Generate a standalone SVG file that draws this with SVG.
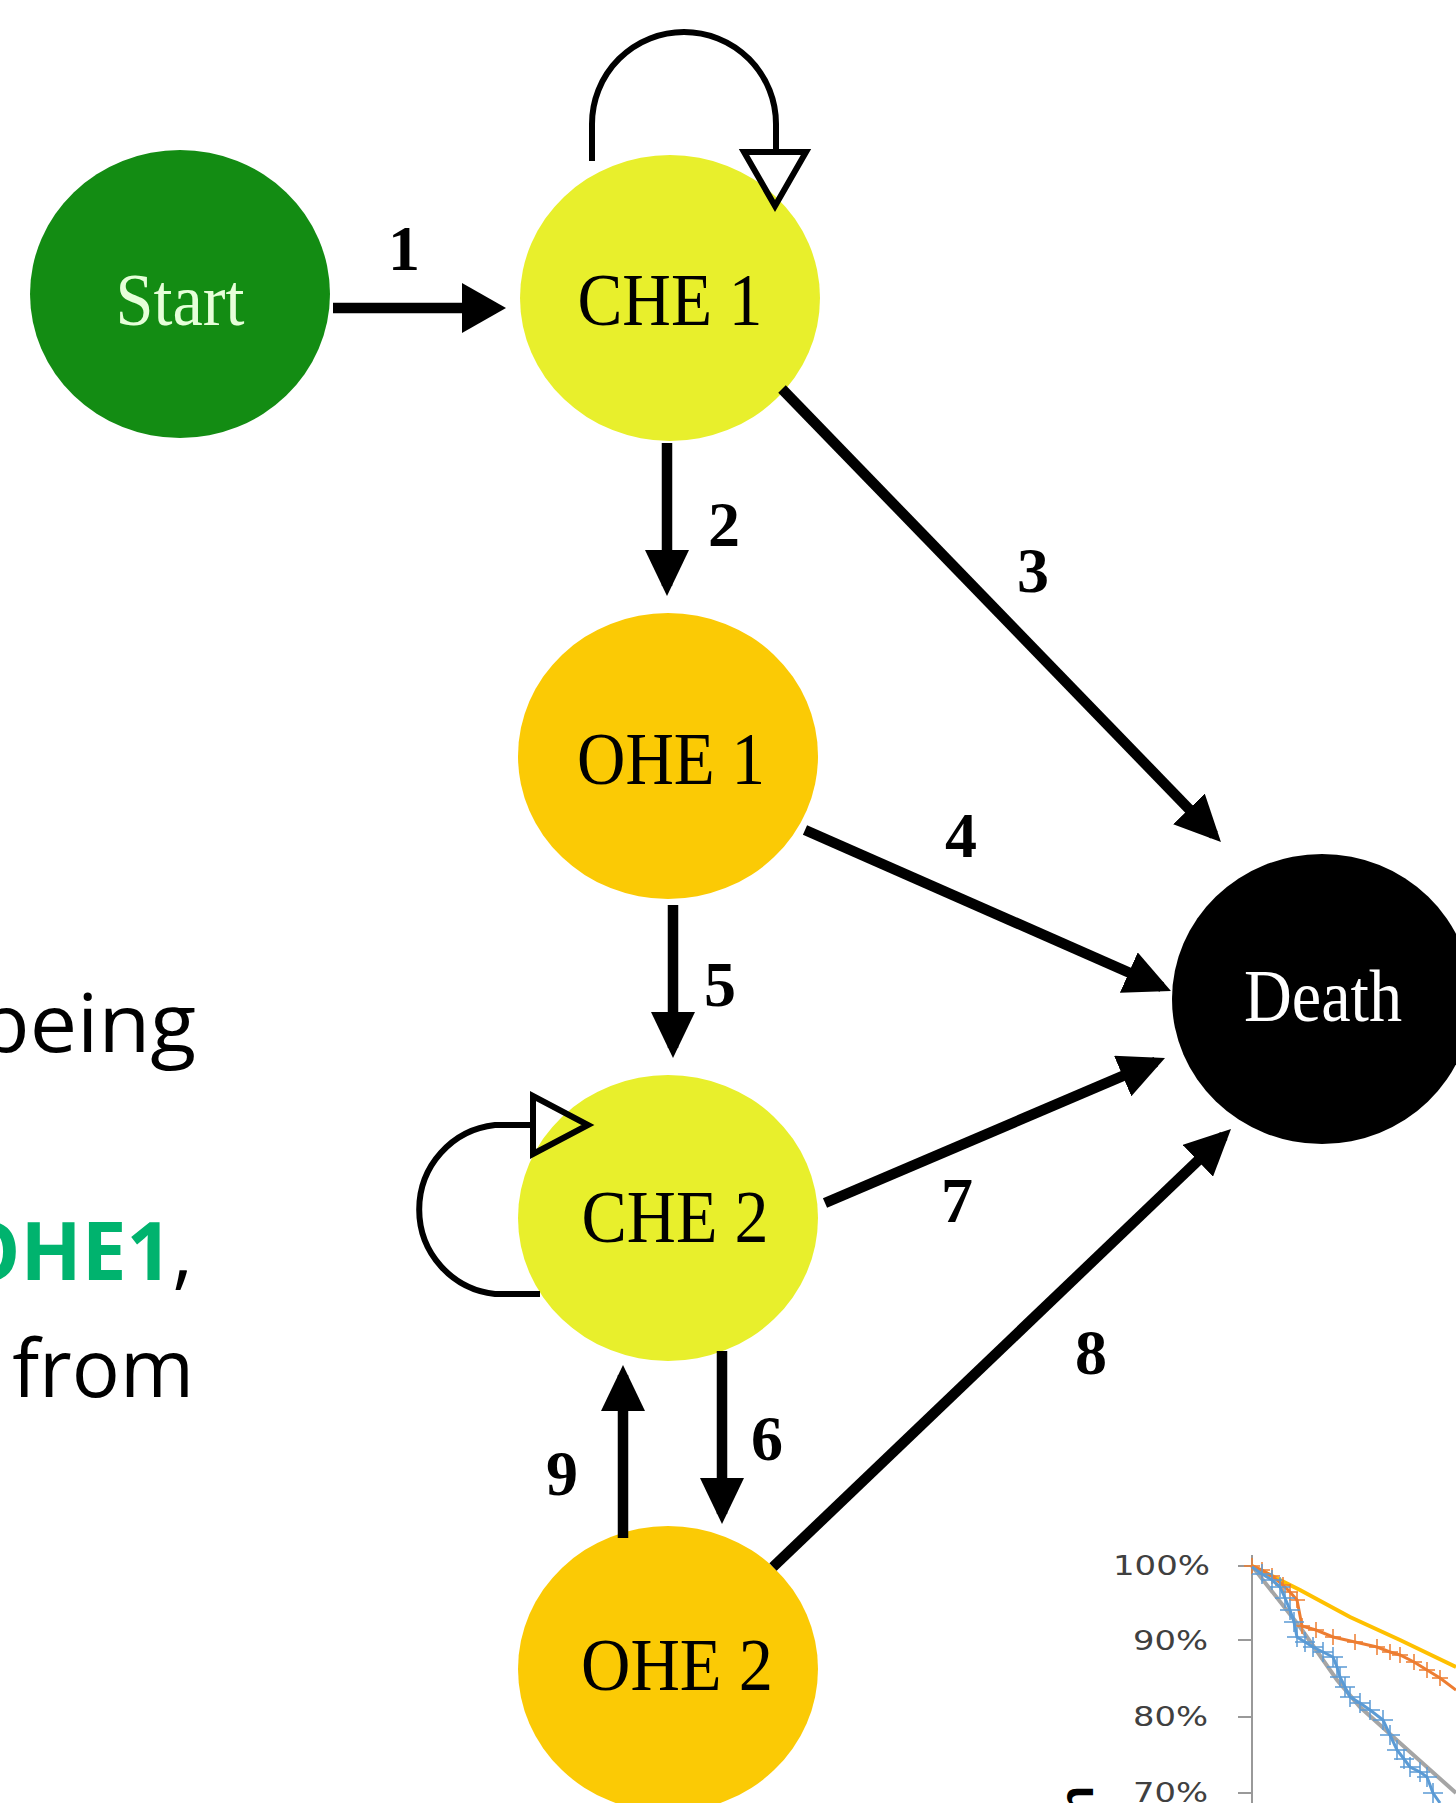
<svg xmlns="http://www.w3.org/2000/svg" width="1456" height="1803" viewBox="0 0 1456 1803">
<style>
.node-label{font-family:"Liberation Serif","Times New Roman",serif;font-size:74px;text-anchor:middle}
.num{font-family:"Liberation Serif","Times New Roman",serif;font-size:64px;font-weight:bold;text-anchor:middle;fill:#000}
.edge{stroke:#000;stroke-width:10.5;fill:none}
.loop{stroke:#000;stroke-width:6;fill:none}
.side{font-family:"Open Sans","Noto Sans",sans-serif;font-size:80px;text-anchor:end;fill:#000}
.axis{font-family:"DejaVu Sans",Verdana,sans-serif;font-size:27px;text-anchor:end;fill:#404040}
</style>
<defs>
<marker id="ah" markerUnits="userSpaceOnUse" markerWidth="46" markerHeight="44" refX="36" refY="22" orient="auto"><path d="M0,0 L46,22 L0,44 z" fill="#000"/></marker>
<marker id="ah1" markerUnits="userSpaceOnUse" markerWidth="44" markerHeight="50" refX="34" refY="25" orient="auto"><path d="M0,0 L44,25 L0,50 z" fill="#000"/></marker>
<marker id="crossO" markerUnits="userSpaceOnUse" markerWidth="16" markerHeight="16" refX="8" refY="8"><path d="M0,8 H16 M8,0 V16" stroke="#ed7d31" stroke-width="1.5"/></marker>
<marker id="crossB" markerUnits="userSpaceOnUse" markerWidth="20" markerHeight="20" refX="10" refY="10"><path d="M0,10 H20 M10,0 V20" stroke="#5b9bd5" stroke-width="1.5"/></marker>
</defs>
<rect width="1456" height="1803" fill="#fff"/>

<!-- side text fragments -->
<g id="side-text">
<text class="side" x="196" y="1052" font-size="84" textLength="218" lengthAdjust="spacingAndGlyphs">being</text>
<text class="side" x="193" y="1280"><tspan fill="#00b36e" font-weight="bold">OHE1</tspan>,</text>
<text class="side" x="194" y="1397">from</text>
</g>

<!-- chart fragment -->
<g id="chart">
<line x1="1252" y1="1555" x2="1252" y2="1803" stroke="#999" stroke-width="2"/>
<g stroke="#999" stroke-width="2">
<line x1="1238" y1="1566" x2="1252" y2="1566"/>
<line x1="1238" y1="1640" x2="1252" y2="1640"/>
<line x1="1238" y1="1717" x2="1252" y2="1717"/>
<line x1="1238" y1="1793" x2="1252" y2="1793"/>
</g>
<text class="axis" x="1210" y="1575" textLength="97" lengthAdjust="spacingAndGlyphs">100%</text>
<text class="axis" x="1208" y="1650" textLength="75" lengthAdjust="spacingAndGlyphs">90%</text>
<text class="axis" x="1208" y="1726" textLength="75" lengthAdjust="spacingAndGlyphs">80%</text>
<text class="axis" x="1208" y="1802" textLength="75" lengthAdjust="spacingAndGlyphs">70%</text>
<text x="1093" y="1815" transform="rotate(-90 1093 1815)" font-family="Liberation Sans,Arial,sans-serif" font-size="48" font-weight="bold" fill="#000">n</text>
<polyline points="1252,1566 1300,1590 1350,1617 1400,1640 1456,1667" fill="none" stroke="#ffc000" stroke-width="4"/>
<polyline points="1252,1566 1300,1627 1337,1680 1360,1707 1400,1743 1456,1793" fill="none" stroke="#a5a5a5" stroke-width="4"/>
<polyline points="1252,1566 1262,1570 1272,1576 1283,1585 1290,1592 1297,1600 1302,1626 1316,1630 1333,1637 1355,1642 1377,1647 1390,1652 1400,1655 1414,1662 1427,1670 1440,1678 1456,1690" fill="none" stroke="#ed7d31" stroke-width="3" marker-start="url(#crossO)" marker-mid="url(#crossO)"/>
<polyline points="1252,1567 1262,1574 1272,1580 1280,1587 1285,1598 1290,1610 1294,1622 1297,1637 1305,1642 1313,1647 1323,1652 1333,1657 1337,1667 1340,1677 1345,1687 1350,1697 1360,1703 1370,1710 1383,1720 1390,1735 1397,1750 1404,1759 1410,1767 1420,1772 1427,1777 1433,1793 1440,1803" fill="none" stroke="#5b9bd5" stroke-width="3" marker-mid="url(#crossB)"/>
</g>

<!-- nodes -->
<g id="node-start">
<ellipse cx="180" cy="294" rx="150" ry="144" fill="#138c13"/>
<text class="node-label" x="180" y="325" fill="#e6ffd9" textLength="129" lengthAdjust="spacingAndGlyphs">Start</text>
</g>
<g id="node-che1">
<ellipse cx="670" cy="298" rx="150" ry="143" fill="#e8ef2c"/>
<text class="node-label" x="670" y="325" fill="#000" textLength="185" lengthAdjust="spacingAndGlyphs">CHE 1</text>
</g>
<g id="node-ohe1">
<ellipse cx="668" cy="756" rx="150" ry="143" fill="#fbca05"/>
<text class="node-label" x="671" y="784" fill="#000" textLength="188" lengthAdjust="spacingAndGlyphs">OHE 1</text>
</g>
<g id="node-che2">
<ellipse cx="668" cy="1218" rx="150" ry="143" fill="#e8ef2c"/>
<text class="node-label" x="675" y="1242" fill="#000" textLength="187" lengthAdjust="spacingAndGlyphs">CHE 2</text>
</g>
<g id="node-ohe2">
<ellipse cx="668" cy="1669" rx="150" ry="143" fill="#fbca05"/>
<text class="node-label" x="677" y="1690" fill="#000" textLength="192" lengthAdjust="spacingAndGlyphs">OHE 2</text>
</g>
<g id="node-death">
<ellipse cx="1322" cy="999" rx="150" ry="145" fill="#000"/>
<text class="node-label" x="1323" y="1021" fill="#fff" textLength="158" lengthAdjust="spacingAndGlyphs">Death</text>
</g>

<!-- connectors -->
<g id="connectors">
<line class="edge" x1="333" y1="308" x2="496" y2="308" stroke-width="12" marker-end="url(#ah1)"/>
<line class="edge" x1="667" y1="443" x2="667" y2="586" marker-end="url(#ah)"/>
<line class="edge" x1="782" y1="389" x2="1214" y2="834.8" marker-end="url(#ah)"/>
<line class="edge" x1="805" y1="830" x2="1161.8" y2="987" marker-end="url(#ah)"/>
<line class="edge" x1="673" y1="905" x2="673" y2="1048" marker-end="url(#ah)"/>
<line class="edge" x1="825" y1="1203" x2="1155.8" y2="1061.9" marker-end="url(#ah)"/>
<line class="edge" x1="773" y1="1567" x2="1223.8" y2="1135.9" marker-end="url(#ah)"/>
<line class="edge" x1="722" y1="1351" x2="722" y2="1514" marker-end="url(#ah)"/>
<line class="edge" x1="623" y1="1538" x2="623" y2="1375" marker-end="url(#ah)"/>
<!-- self loop CHE 1 -->
<path class="loop" d="M592,161 V124 A92,92 0 0 1 776,124 V150"/>
<polygon points="744,152 806,152 775,206" fill="none" stroke="#000" stroke-width="6"/>
<!-- self loop CHE 2 -->
<path class="loop" d="M540,1294 H495 A85,85 0 0 1 495,1125 H533"/>
<polygon points="533,1096 533,1154 588,1125" fill="none" stroke="#000" stroke-width="6"/>
<!-- labels -->
<text class="num" x="404" y="270">1</text>
<text class="num" x="724" y="546">2</text>
<text class="num" x="1033" y="592">3</text>
<text class="num" x="961" y="857">4</text>
<text class="num" x="720" y="1006">5</text>
<text class="num" x="767" y="1460">6</text>
<text class="num" x="957" y="1222">7</text>
<text class="num" x="1091" y="1374">8</text>
<text class="num" x="562" y="1495">9</text>
</g>
</svg>
